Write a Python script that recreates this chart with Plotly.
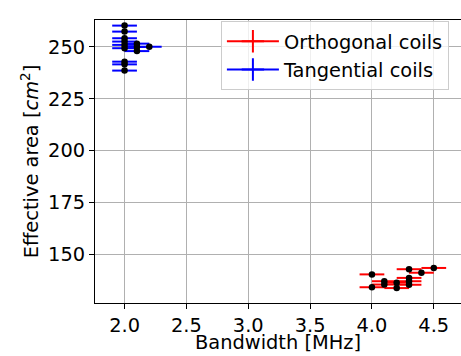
import plotly.graph_objects as go

# Data
orth_bw = [4.0, 4.0, 4.1, 4.1, 4.2, 4.2, 4.3, 4.3, 4.3, 4.3, 4.4, 4.5]
orth_area = [140.3, 134.1, 137.0, 135.4, 136.3, 133.7, 142.8, 138.6, 137.0, 135.3, 141.1, 143.4]
orth_bw_err = [0.1] * len(orth_bw)
orth_area_err = [1.0] * len(orth_bw)

tang_bw = [2.0, 2.0, 2.0, 2.0, 2.0, 2.0, 2.0, 2.0, 2.0, 2.1, 2.1, 2.1, 2.2]
tang_area = [260.3, 257.4, 254.2, 252.6, 251.0, 249.4, 242.9, 241.6, 238.6, 251.6, 250.0, 248.0, 250.1]
tang_bw_err = [0.1] * len(tang_bw)
tang_area_err = [1.0] * len(tang_bw)

x_tick_vals = [2.0, 2.5, 3.0, 3.5, 4.0, 4.5]
x_tick_text = ["2.0", "2.5", "3.0", "3.5", "4.0", "4.5"]
y_tick_vals = [150, 175, 200, 225, 250]

FONT = "DejaVu Sans, sans-serif"
FS = 19.4

fig = go.Figure()

for name, xs, ys, xe, ye, col in [
    ("Orthogonal coils", orth_bw, orth_area, orth_bw_err, orth_area_err, "#ff0000"),
    ("Tangential coils", tang_bw, tang_area, tang_bw_err, tang_area_err, "#0000ff"),
]:
    fig.add_trace(go.Scatter(
        x=xs, y=ys, mode="markers", name=name,
        marker=dict(color=col, size=5),
        error_x=dict(type="data", array=xe, color=col, thickness=2, width=0),
        error_y=dict(type="data", array=ye, color=col, thickness=2, width=0),
        showlegend=False,
    ))

# legend-only glyphs
for name, col in [("Orthogonal coils", "#ff0000"), ("Tangential coils", "#0000ff")]:
    fig.add_trace(go.Scatter(
        x=[None], y=[None], mode="lines+markers", name=name,
        line=dict(color=col, width=2),
        marker=dict(color=col, size=16, symbol="cross-thin", line=dict(color=col, width=2)),
    ))

# black dots on top
for xs, ys in [(orth_bw, orth_area), (tang_bw, tang_area)]:
    fig.add_trace(go.Scatter(
        x=xs, y=ys, mode="markers", showlegend=False, hoverinfo="skip",
        marker=dict(color="black", size=6.5),
    ))

axis_common = dict(
    showgrid=True, gridcolor="#b0b0b0", gridwidth=0.8,
    showline=True, linecolor="black", linewidth=1,
    ticks="outside", ticklen=5, tickcolor="black", tickwidth=1,
    tickfont=dict(family=FONT, size=FS, color="black"),
    zeroline=False,
)

fig.update_layout(
    width=461, height=356,
    margin=dict(l=95, r=0, t=20, b=53),
    paper_bgcolor="white", plot_bgcolor="white",
    font=dict(family=FONT, size=FS, color="black"),
    xaxis=dict(
        range=[1.761, 4.72], tickvals=x_tick_vals, ticktext=x_tick_text,
        mirror=True,
        **axis_common,
    ),
    yaxis=dict(
        range=[126.5, 263], tickvals=y_tick_vals,
        mirror=False,
        title=dict(text="Effective area [<i>cm</i><sup>2</sup>]", font=dict(family=FONT, size=FS), standoff=4),
        **axis_common,
    ),
    legend=dict(
        x=0.344, y=0.996, xanchor="left", yanchor="top",
        bgcolor="rgba(255,255,255,0.8)", bordercolor="#cccccc", borderwidth=1,
        font=dict(family=FONT, size=FS),
        itemwidth=52,
    ),
    annotations=[dict(
        text="Bandwidth [MHz]", xref="paper", yref="paper",
        x=0.5, y=-0.138, xanchor="center", yanchor="middle",
        showarrow=False, font=dict(family=FONT, size=FS, color="black"),
    )],
)

fig.write_html("out.html")
